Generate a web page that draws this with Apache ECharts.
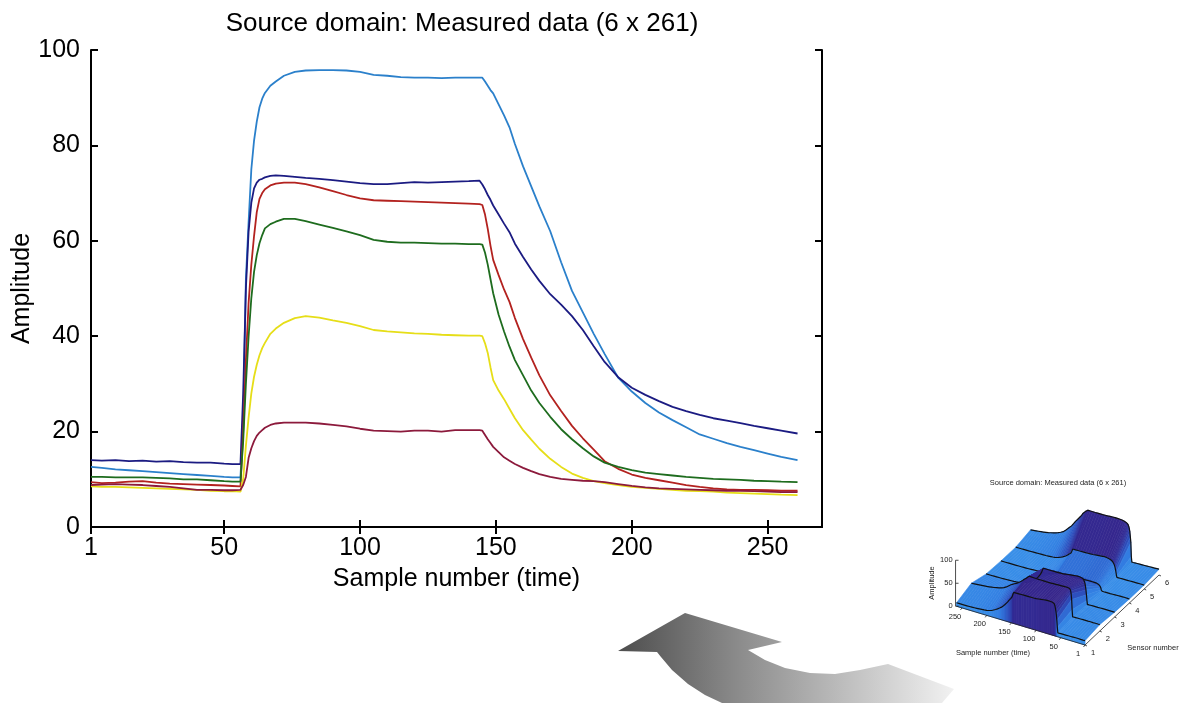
<!DOCTYPE html>
<html>
<head>
<meta charset="utf-8">
<script src="https://cdn.jsdelivr.net/npm/echarts@6/dist/echarts.min.js"></script>
<style>html,body{margin:0;padding:0;background:#fff}#c{width:1187px;height:703px}</style>
</head>
<body>
<div id="c"></div>
<script>
// ---- data ----
const samples = [1,5,10,15,20,25,30,35,40,45,50,53,56,57,58,59,60,61,62,63,64,65,67,69,72,76,80,85,90,95,100,105,110,115,120,125,130,135,140,144,145,146,147,148,149,151,153,155,157,160,163,166,170,174,178,182,186,190,195,200,205,210,215,220,225,230,235,240,245,250,255,261];
const lightBlue = [12.6,12.4,12.1,11.9,11.7,11.5,11.3,11.1,10.9,10.7,10.5,10.4,10.4,22,52,64,75,81,85,88,89.8,91,92.5,93.4,94.6,95.4,95.7,95.8,95.8,95.7,95.4,94.8,94.6,94.3,94.2,94.2,94.1,94.2,94.2,94.2,94.2,93.4,92.5,91.6,90.9,88.6,86.3,83.8,80.3,75.6,71.4,67.2,62.0,55.5,49.5,45.0,40.5,36.3,31.3,28.4,26.0,24.0,22.4,20.9,19.4,18.5,17.6,16.8,16.1,15.4,14.7,14.0];
const darkBlue = [14.0,13.9,14.0,13.8,13.9,13.7,13.8,13.6,13.5,13.5,13.3,13.2,13.2,28,50,62,68,71,72.2,72.8,73.0,73.3,73.6,73.7,73.6,73.4,73.2,73.0,72.7,72.4,72.1,71.9,71.9,72.1,72.3,72.2,72.3,72.4,72.5,72.6,71.8,70.8,69.6,68.6,67.4,65.5,63.6,61.8,59.4,56.6,54.0,51.6,48.8,46.6,44.2,41.3,37.9,34.6,31.4,29.2,27.7,26.4,25.2,24.3,23.5,22.8,22.3,21.8,21.2,20.7,20.2,19.6];
const red = [9.4,9.2,9.3,9.5,9.6,9.3,9.1,9.0,8.9,8.8,8.7,8.6,8.5,20,35,47,55,61,66,68.8,70.0,70.8,71.6,72.0,72.2,72.2,71.9,71.2,70.4,69.6,68.9,68.5,68.4,68.3,68.2,68.1,68.0,67.9,67.8,67.7,67.5,65.5,62.5,59.0,56.0,52.8,49.8,47.2,43.8,39.4,35.5,31.8,27.6,24.3,21.2,18.6,16.2,13.8,12.2,11.0,10.3,9.8,9.3,8.8,8.4,8.1,7.9,7.8,7.8,7.7,7.6,7.6];
const green = [10.5,10.5,10.4,10.4,10.4,10.3,10.2,10.0,10.0,9.8,9.6,9.5,9.5,18,30,40,48,53.5,57,59.5,61.2,62.6,63.5,64.0,64.6,64.6,64.1,63.4,62.7,62.0,61.2,60.2,59.8,59.6,59.6,59.5,59.4,59.4,59.3,59.3,59.2,57.5,55.0,52.0,49.0,44.5,41.0,37.8,35.0,31.8,28.6,26.0,23.1,20.5,18.4,16.5,14.8,13.5,12.6,11.9,11.4,11.1,10.8,10.5,10.3,10.1,10.0,9.9,9.7,9.6,9.5,9.4];
const yellow = [8.5,8.4,8.4,8.3,8.2,8.1,8.0,7.9,7.8,7.6,7.5,7.5,7.4,10,17,23,28,31.5,34,36,37.5,38.6,40.5,41.6,42.8,43.8,44.2,43.9,43.3,42.8,42.1,41.3,41.0,40.8,40.6,40.5,40.3,40.2,40.1,40.1,40.0,38.5,36.5,33.5,30.8,28.6,26.8,24.8,22.8,20.3,18.3,16.4,14.3,12.6,11.2,10.3,9.6,9.2,8.8,8.4,8.2,8.0,7.8,7.6,7.5,7.4,7.2,7.1,7.0,6.9,6.8,6.7];
const maroon = [8.8,8.9,9.0,8.9,8.8,8.6,8.4,8.1,7.8,7.8,7.7,7.7,7.8,8.8,10.5,14.5,16.5,18.0,19.1,19.8,20.3,20.8,21.4,21.7,21.9,21.9,21.9,21.7,21.4,21.1,20.6,20.2,20.1,20.0,20.2,20.2,20.0,20.3,20.3,20.3,20.2,19.3,18.4,17.6,16.8,15.7,14.6,13.9,13.2,12.4,11.7,11.1,10.5,10.1,9.9,9.7,9.6,9.4,9.0,8.6,8.3,8.1,8.0,7.9,7.8,7.7,7.6,7.6,7.5,7.4,7.3,7.3];
const xTicks = [1,50,100,150,200,250];
const insetSampleTicks = [1,50,100,150,200,250];
const insetSensorTicks = [1,2,3,4,5,6];
const insetAmpTicks = [0,50,100];

const FONT = 'Liberation Sans, Arial, sans-serif';
const chart = echarts.init(document.getElementById('c'));

const seriesDefs = [
  {name:'S6', data: lightBlue, color:'#2b80cb'},
  {name:'S2', data: darkBlue, color:'#1b1b82'},
  {name:'S1', data: red, color:'#b3221f'},
  {name:'S3', data: green, color:'#1e6c1e'},
  {name:'S5', data: yellow, color:'#e6de18'},
  {name:'S4', data: maroon, color:'#8c1a3c'}
];

// ---- inset pseudo-3D surface (projected from the same arrays) ----
const insetOrder = [red, darkBlue, green, maroon, yellow, lightBlue];
function P(s, k, a) {
  return [1085 - 0.494 * (s - 1) + 14.8 * (k - 1), 645 - 0.149 * (s - 1) - 14 * (k - 1) - 0.46 * a];
}
function lerpColor(stops, v) {
  for (let i = 0; i < stops.length - 1; i++) {
    const [v0, c0] = stops[i], [v1, c1] = stops[i + 1];
    if (v <= v1 || i === stops.length - 2) {
      const t = Math.max(0, Math.min(1, (v - v0) / (v1 - v0)));
      const c = c0.map((x, j) => Math.round(x + (c1[j] - x) * t));
      return 'rgb(' + c.join(',') + ')';
    }
  }
}
const cmap = [[0,[60,150,235]],[25,[50,125,225]],[45,[45,80,190]],[62,[50,45,150]],[76,[55,35,135]],[88,[110,40,120]],[100,[175,50,80]]];
const graphics = [];
for (let k = 5; k >= 1; k--) {
  const A = insetOrder[k - 1], B = insetOrder[k];
  for (let i = samples.length - 2; i >= 0; i--) {
    const pts = [P(samples[i], k, A[i]), P(samples[i + 1], k, A[i + 1]), P(samples[i + 1], k + 1, B[i + 1]), P(samples[i], k + 1, B[i])];
    const col = lerpColor(cmap, (A[i] + A[i + 1] + B[i] + B[i + 1]) / 4);
    graphics.push({type:'polygon', silent:true, z:10, shape:{points:pts}, style:{fill:col, stroke:col, lineWidth:0.6}});
  }
  graphics.push({type:'polyline', silent:true, z:10, shape:{points: samples.map((s, i) => P(s, k + 1, B[i]))}, style:{stroke:'#111', lineWidth:1.2, fill:null}});
}
// front skirt under sensor 1
{
  const A = insetOrder[0];
  for (let i = samples.length - 2; i >= 0; i--) {
    const pts = [P(samples[i], 1, A[i]), P(samples[i + 1], 1, A[i + 1]), P(samples[i + 1], 1, 0), P(samples[i], 1, 0)];
    const col = lerpColor(cmap, Math.max(A[i], A[i + 1]) * 0.95);
    graphics.push({type:'polygon', silent:true, z:10, shape:{points:pts}, style:{fill:col, stroke:col, lineWidth:0.8}});
  }
}
graphics.push({type:'polyline', silent:true, z:10, shape:{points: samples.map((s, i) => P(s, 1, insetOrder[0][i]))}, style:{stroke:'#111', lineWidth:1.2, fill:null}});
// inset axes
const cL = P(261, 1, 0), cF = P(1, 1, 0), cR = P(1, 6, 0);
graphics.push({type:'polyline', silent:true, z:11, shape:{points:[cL, cF, cR]}, style:{stroke:'#222', lineWidth:0.8, fill:null}});
graphics.push({type:'line', silent:true, z:11, shape:{x1:cL[0]-1, y1:cL[1], x2:cL[0]-1, y2:P(261,1,100)[1]}, style:{stroke:'#222', lineWidth:0.8}});
insetAmpTicks.forEach(a => {
  const p = P(261, 1, a);
  graphics.push({type:'line', silent:true, z:11, shape:{x1:p[0]-1, y1:p[1], x2:p[0]+2, y2:p[1]}, style:{stroke:'#222', lineWidth:0.8}});
  graphics.push({type:'text', silent:true, z:11, x:p[0]-4, y:p[1], style:{text:String(a), fontSize:7.5, fontFamily:FONT, fill:'#222', align:'right', verticalAlign:'middle'}});
});
insetSampleTicks.forEach(s => {
  const p = P(s, 1, 0);
  graphics.push({type:'line', silent:true, z:11, shape:{x1:p[0], y1:p[1], x2:p[0]-1.5, y2:p[1]+2}, style:{stroke:'#222', lineWidth:0.8}});
  graphics.push({type:'text', silent:true, z:11, x:p[0]-7, y:p[1]+9, style:{text:String(s), fontSize:7.5, fontFamily:FONT, fill:'#222', align:'center', verticalAlign:'middle'}});
});
insetSensorTicks.forEach(k => {
  const p = P(1, k, 0);
  graphics.push({type:'line', silent:true, z:11, shape:{x1:p[0], y1:p[1], x2:p[0]+2, y2:p[1]+1}, style:{stroke:'#222', lineWidth:0.8}});
  graphics.push({type:'text', silent:true, z:11, x:p[0]+8, y:p[1]+8, style:{text:String(k), fontSize:7.5, fontFamily:FONT, fill:'#222', align:'center', verticalAlign:'middle'}});
});
graphics.push({type:'text', silent:true, z:11, x:1058, y:483, style:{text:'Source domain: Measured data (6 x 261)', fontSize:7.5, fontFamily:FONT, fill:'#222', align:'center', verticalAlign:'middle'}});
graphics.push({type:'text', silent:true, z:11, x:932, y:583, rotation:Math.PI/2, style:{text:'Amplitude', fontSize:7.5, fontFamily:FONT, fill:'#222', align:'center', verticalAlign:'middle'}});
graphics.push({type:'text', silent:true, z:11, x:993, y:653, style:{text:'Sample number (time)', fontSize:7.5, fontFamily:FONT, fill:'#222', align:'center', verticalAlign:'middle'}});
graphics.push({type:'text', silent:true, z:11, x:1153, y:648, style:{text:'Sensor number', fontSize:7.5, fontFamily:FONT, fill:'#222', align:'center', verticalAlign:'middle'}});

// curved grey arrow (decoration)
graphics.push({type:'polygon', silent:true, z:5, shape:{points:[
  [618,651],[685,613],[782,642],[748,650],[765,660],[785,668],[810,673],[835,674],[860,670],[888,664],[954,689],[942,703],
  [722,703],[705,695],[688,684],[672,670],[661,657],[657,652]
]}, style:{fill:{type:'linear', x:618, y:0, x2:955, y2:0, global:true, colorStops:[{offset:0,color:'#4d4d4d'},{offset:0.35,color:'#8a8a8a'},{offset:1,color:'#f2f2f2'}]}}});

const axisLine = {show:true, lineStyle:{color:'#000', width:2}};
const tickIn = {show:true, inside:true, length:7, lineStyle:{color:'#000', width:2}};

chart.setOption({
  animation:false,
  backgroundColor:'#fff',
  title:{text:'Source domain: Measured data (6 x 261)', left:457, top:6, textAlign:'center',
    textStyle:{fontSize:26, fontWeight:'normal', color:'#000', fontFamily:FONT}},
  grid:{left:91, right:365, top:50, bottom:176, containLabel:false, outerBoundsMode:'none'},
  xAxis:[
    {type:'value', min:1, max:270, position:'bottom', axisLine, splitLine:{show:false},
      axisTick:Object.assign({customValues:xTicks}, tickIn),
      axisLabel:{customValues:xTicks, fontSize:25, color:'#000', fontFamily:FONT, margin:9},
      name:'Sample number (time)', nameLocation:'middle', nameGap:40, nameMoveOverlap:false,
      nameTextStyle:{fontSize:25, color:'#000', fontFamily:FONT}},
    {type:'value', min:1, max:270, position:'top', axisLine, splitLine:{show:false},
      axisTick:Object.assign({customValues:xTicks}, tickIn), axisLabel:{show:false}}
  ],
  yAxis:[
    {type:'value', min:0, max:100, interval:20, position:'left', axisLine, splitLine:{show:false},
      axisTick:tickIn,
      axisLabel:{fontSize:25, color:'#000', fontFamily:FONT, margin:11},
      name:'Amplitude', nameLocation:'middle', nameGap:56, nameRotate:90, nameMoveOverlap:false,
      nameTextStyle:{fontSize:25, color:'#000', fontFamily:FONT}},
    {type:'value', min:0, max:100, interval:20, position:'right', axisLine, splitLine:{show:false},
      axisTick:tickIn, axisLabel:{show:false}}
  ],
  series: seriesDefs.map(d => ({
    name:d.name, type:'line', xAxisIndex:0, yAxisIndex:0, showSymbol:false, symbol:'none',
    lineStyle:{color:d.color, width:1.8}, data: samples.map((s, i) => [s, d.data[i]])
  })),
  graphic: graphics
});
</script>
</body>
</html>
